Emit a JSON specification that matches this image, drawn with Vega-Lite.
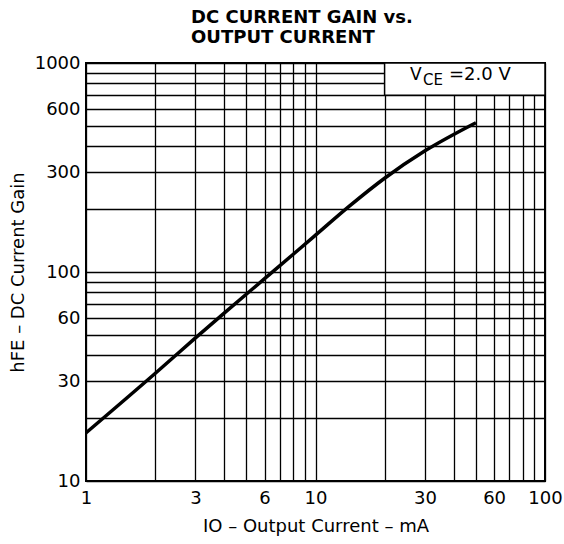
{
  "$schema": "https://vega.github.io/schema/vega-lite/v6.json",
  "autosize": {"type": "none"},
  "padding": {"left": 86, "top": 63, "right": 19, "bottom": 63},
  "width": 459,
  "height": 418,
  "background": "white",
  "title": {
    "text": ["DC CURRENT GAIN vs.", "OUTPUT CURRENT"],
    "anchor": "start",
    "frame": "group",
    "dx": 105,
    "offset": 7,
    "font": "DejaVu Sans",
    "fontSize": 18,
    "fontWeight": "bold",
    "lineHeight": 20,
    "color": "black"
  },
  "config": {
    "view": {"stroke": "black", "strokeWidth": 2},
    "axis": {
      "labelFont": "DejaVu Sans",
      "labelFontSize": 18,
      "labelColor": "black",
      "titleFont": "DejaVu Sans",
      "titleFontSize": 18,
      "titleFontWeight": "normal",
      "titleColor": "black",
      "grid": true,
      "gridColor": "black",
      "gridOpacity": 1,
      "gridWidth": 1.3,
      "ticks": false,
      "domain": false,
      "labelOverlap": false,
      "labelFlush": false,
      "labelBound": false
    }
  },
  "datasets": {
    "curve": [
      {"io": 1, "hfe": 17},
      {"io": 2, "hfe": 32.7},
      {"io": 3, "hfe": 48.4},
      {"io": 4, "hfe": 63.6},
      {"io": 6, "hfe": 92.9},
      {"io": 8, "hfe": 121.6},
      {"io": 10, "hfe": 150},
      {"io": 14, "hfe": 206},
      {"io": 20, "hfe": 281},
      {"io": 30, "hfe": 380},
      {"io": 50, "hfe": 518}
    ],
    "box": [{"x1": 20, "x2": 100, "y1": 700, "y2": 1000}],
    "note": [{"x": 25.8, "y": 832}]
  },
  "layer": [
    {
      "data": {"name": "curve"},
      "mark": {"type": "line", "color": "black", "strokeWidth": 3.5, "interpolate": "monotone"},
      "encoding": {
        "x": {
          "field": "io",
          "type": "quantitative",
          "scale": {"type": "log", "domain": [1, 100], "nice": false},
          "axis": {
            "values": [1, 2, 3, 4, 5, 6, 7, 8, 9, 10, 20, 30, 40, 50, 60, 70, 80, 90, 100],
            "labelExpr": "indexof([1,3,6,10,30,60,100], datum.value) >= 0 ? format(datum.value, 'd') : ''",
            "labelPadding": 8,
            "title": "IO – Output Current – mA",
            "titlePadding": 10
          }
        },
        "y": {
          "field": "hfe",
          "type": "quantitative",
          "scale": {"type": "log", "domain": [10, 1000], "nice": false},
          "axis": {
            "values": [10, 20, 30, 40, 50, 60, 70, 80, 90, 100, 200, 300, 400, 500, 600, 700, 800, 900, 1000],
            "labelExpr": "indexof([10,30,60,100,300,600,1000], datum.value) >= 0 ? format(datum.value, 'd') : ''",
            "labelPadding": 6,
            "title": "hFE – DC Current Gain",
            "titlePadding": 7
          }
        }
      }
    },
    {
      "data": {"name": "box"},
      "mark": {"type": "rect", "fill": "white", "stroke": "black", "strokeWidth": 1.5},
      "encoding": {
        "x": {"field": "x1", "type": "quantitative"},
        "x2": {"field": "x2"},
        "y": {"field": "y1", "type": "quantitative"},
        "y2": {"field": "y2"}
      }
    },
    {
      "data": {"name": "note"},
      "mark": {"type": "text", "align": "left", "baseline": "alphabetic", "font": "DejaVu Sans", "fontSize": 17, "color": "black"},
      "encoding": {
        "x": {"field": "x", "type": "quantitative"},
        "y": {"field": "y", "type": "quantitative"},
        "text": {"value": "V"}
      }
    },
    {
      "data": {"name": "note"},
      "mark": {"type": "text", "align": "left", "baseline": "alphabetic", "font": "DejaVu Sans", "fontSize": 15, "dx": 13, "dy": 5, "color": "black"},
      "encoding": {
        "x": {"field": "x", "type": "quantitative"},
        "y": {"field": "y", "type": "quantitative"},
        "text": {"value": "CE"}
      }
    },
    {
      "data": {"name": "note"},
      "mark": {"type": "text", "align": "left", "baseline": "alphabetic", "font": "DejaVu Sans", "fontSize": 18, "dx": 39, "color": "black"},
      "encoding": {
        "x": {"field": "x", "type": "quantitative"},
        "y": {"field": "y", "type": "quantitative"},
        "text": {"value": "=2.0 V"}
      }
    }
  ]
}
